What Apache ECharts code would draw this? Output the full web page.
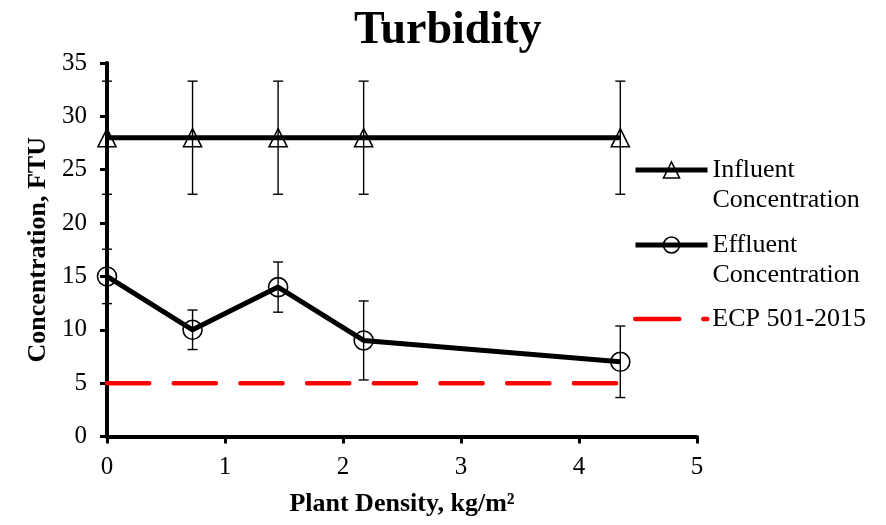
<!DOCTYPE html>
<html>
<head>
<meta charset="utf-8">
<script src="https://cdn.jsdelivr.net/npm/echarts@6/dist/echarts.min.js"></script>
<style>
  html, body { margin: 0; padding: 0; background: #fff; }
  #chart { width: 886px; height: 525px; }
</style>
</head>
<body>
<div id="chart"></div>
<script>
// Plant density (kg/m²) for each sampling point
const density = [0, 0.725, 1.45, 2.175, 4.35];
// Influent turbidity (FTU) and its standard deviation
const influent = [28, 28, 28, 28, 28];
const influentErr = [5.3, 5.3, 5.3, 5.3, 5.3];
// Effluent turbidity (FTU) and its standard deviation
const effluent = [15, 10, 14, 9, 7];
const effluentErr = [2.55, 1.85, 2.35, 3.7, 3.35];
// ECP 501-2015 discharge limit (FTU)
const ecpLimit = [5, 5, 5, 5, 5];
// Axis ticks
const xTicks = [0, 1, 2, 3, 4, 5];
const yTicks = [0, 5, 10, 15, 20, 25, 30, 35];

const FONT = "'Liberation Serif', 'Times New Roman', serif";
const pairs = (vals) => density.map((x, i) => [x, vals[i]]);

function errorBars(name, vals, errs) {
  return {
    type: 'custom',
    name: name,
    silent: true,
    z: 6,
    data: density.map((x, i) => [x, vals[i] - errs[i], vals[i] + errs[i]]),
    encode: { x: 0, y: [1, 2] },
    renderItem(params, api) {
      const x = api.value(0);
      const lo = api.coord([x, api.value(1)]);
      const hi = api.coord([x, api.value(2)]);
      const w = 5;
      const style = { stroke: '#000', lineWidth: 1.4 };
      return {
        type: 'group',
        children: [
          { type: 'line', shape: { x1: lo[0], y1: lo[1], x2: hi[0], y2: hi[1] }, style },
          { type: 'line', shape: { x1: lo[0] - w, y1: lo[1], x2: lo[0] + w, y2: lo[1] }, style },
          { type: 'line', shape: { x1: hi[0] - w, y1: hi[1], x2: hi[0] + w, y2: hi[1] }, style }
        ]
      };
    }
  };
}

const legendText = {
  fontFamily: FONT, fontSize: 26, color: '#000', lineHeight: 30
};
// Two-line legend label whose first line sits level with the icon
const twoLine = (n) => '\u00a0\n' + n.replace(' ', '\n');

const chart = echarts.init(document.getElementById('chart'));
chart.setOption({
  backgroundColor: '#fff',
  animation: false,
  title: {
    text: 'Turbidity',
    left: 354, top: 8, padding: 0,
    textStyle: { fontFamily: FONT, fontSize: 46, fontWeight: 'bold', color: '#000' }
  },
  grid: { left: 107, right: 189, top: 63, bottom: 88.5, containLabel: false },
  legend: [
    {
      data: ['Influent Concentration'],
      left: 633, top: 125, padding: 0,
      itemWidth: 72, itemHeight: 20,
      formatter: twoLine,
      lineStyle: { width: 5, color: '#000' },
      itemStyle: { borderWidth: 1.6 },
      textStyle: legendText
    },
    {
      data: ['Effluent Concentration'],
      left: 633, top: 200, padding: 0,
      itemWidth: 72, itemHeight: 20,
      formatter: twoLine,
      lineStyle: { width: 5, color: '#000' },
      itemStyle: { borderWidth: 1.6 },
      textStyle: legendText
    },
    {
      data: ['ECP 501-2015'],
      left: 633, top: 304, padding: 0,
      itemWidth: 72, itemHeight: 20,
      itemStyle: { opacity: 0 },
      lineStyle: { width: 4.5, color: '#ff0000', type: [44, 24], cap: 'round' },
      textStyle: legendText
    }
  ],
  xAxis: {
    type: 'value',
    min: xTicks[0], max: xTicks[xTicks.length - 1], interval: 1,
    name: 'Plant Density, kg/m²',
    nameLocation: 'middle', nameGap: 55,
    nameTextStyle: { fontFamily: FONT, fontSize: 26, fontWeight: 'bold', color: '#000' },
    axisLine: { show: true, onZero: false, lineStyle: { color: '#000', width: 4 } },
    axisTick: { show: true, length: 7, lineStyle: { color: '#000', width: 3 } },
    axisLabel: { fontFamily: FONT, fontSize: 25, color: '#000', margin: 18 },
    splitLine: { show: false }
  },
  yAxis: {
    type: 'value',
    min: yTicks[0], max: yTicks[yTicks.length - 1], interval: 5,
    name: 'Concentration, FTU',
    nameLocation: 'middle', nameGap: 56,
    nameTextStyle: { fontFamily: FONT, fontSize: 26, fontWeight: 'bold', color: '#000' },
    axisLine: { show: true, lineStyle: { color: '#000', width: 4 } },
    axisTick: { show: true, length: 7, lineStyle: { color: '#000', width: 3 } },
    axisLabel: { fontFamily: FONT, fontSize: 25, color: '#000', margin: 20 },
    splitLine: { show: false }
  },
  series: [
    {
      name: 'ECP 501-2015',
      type: 'line',
      data: pairs(ecpLimit),
      symbol: 'circle',
      showSymbol: false,
      z: 2,
      itemStyle: { color: '#ff0000' },
      lineStyle: { color: '#ff0000', width: 4.5, type: [42.2, 24.5], cap: 'round' }
    },
    {
      name: 'Influent Concentration',
      type: 'line',
      data: pairs(influent),
      symbol: 'triangle',
      symbolSize: 18,
      z: 3,
      itemStyle: { color: 'rgba(0,0,0,0)', borderColor: '#000', borderWidth: 1.6 },
      lineStyle: { color: '#000', width: 5 }
    },
    {
      name: 'Effluent Concentration',
      type: 'line',
      data: pairs(effluent),
      symbol: 'circle',
      symbolSize: 19,
      z: 4,
      itemStyle: { color: 'rgba(0,0,0,0)', borderColor: '#000', borderWidth: 1.6 },
      lineStyle: { color: '#000', width: 5 }
    },
    errorBars('Influent error', influent, influentErr),
    errorBars('Effluent error', effluent, effluentErr)
  ]
});
</script>
</body>
</html>
